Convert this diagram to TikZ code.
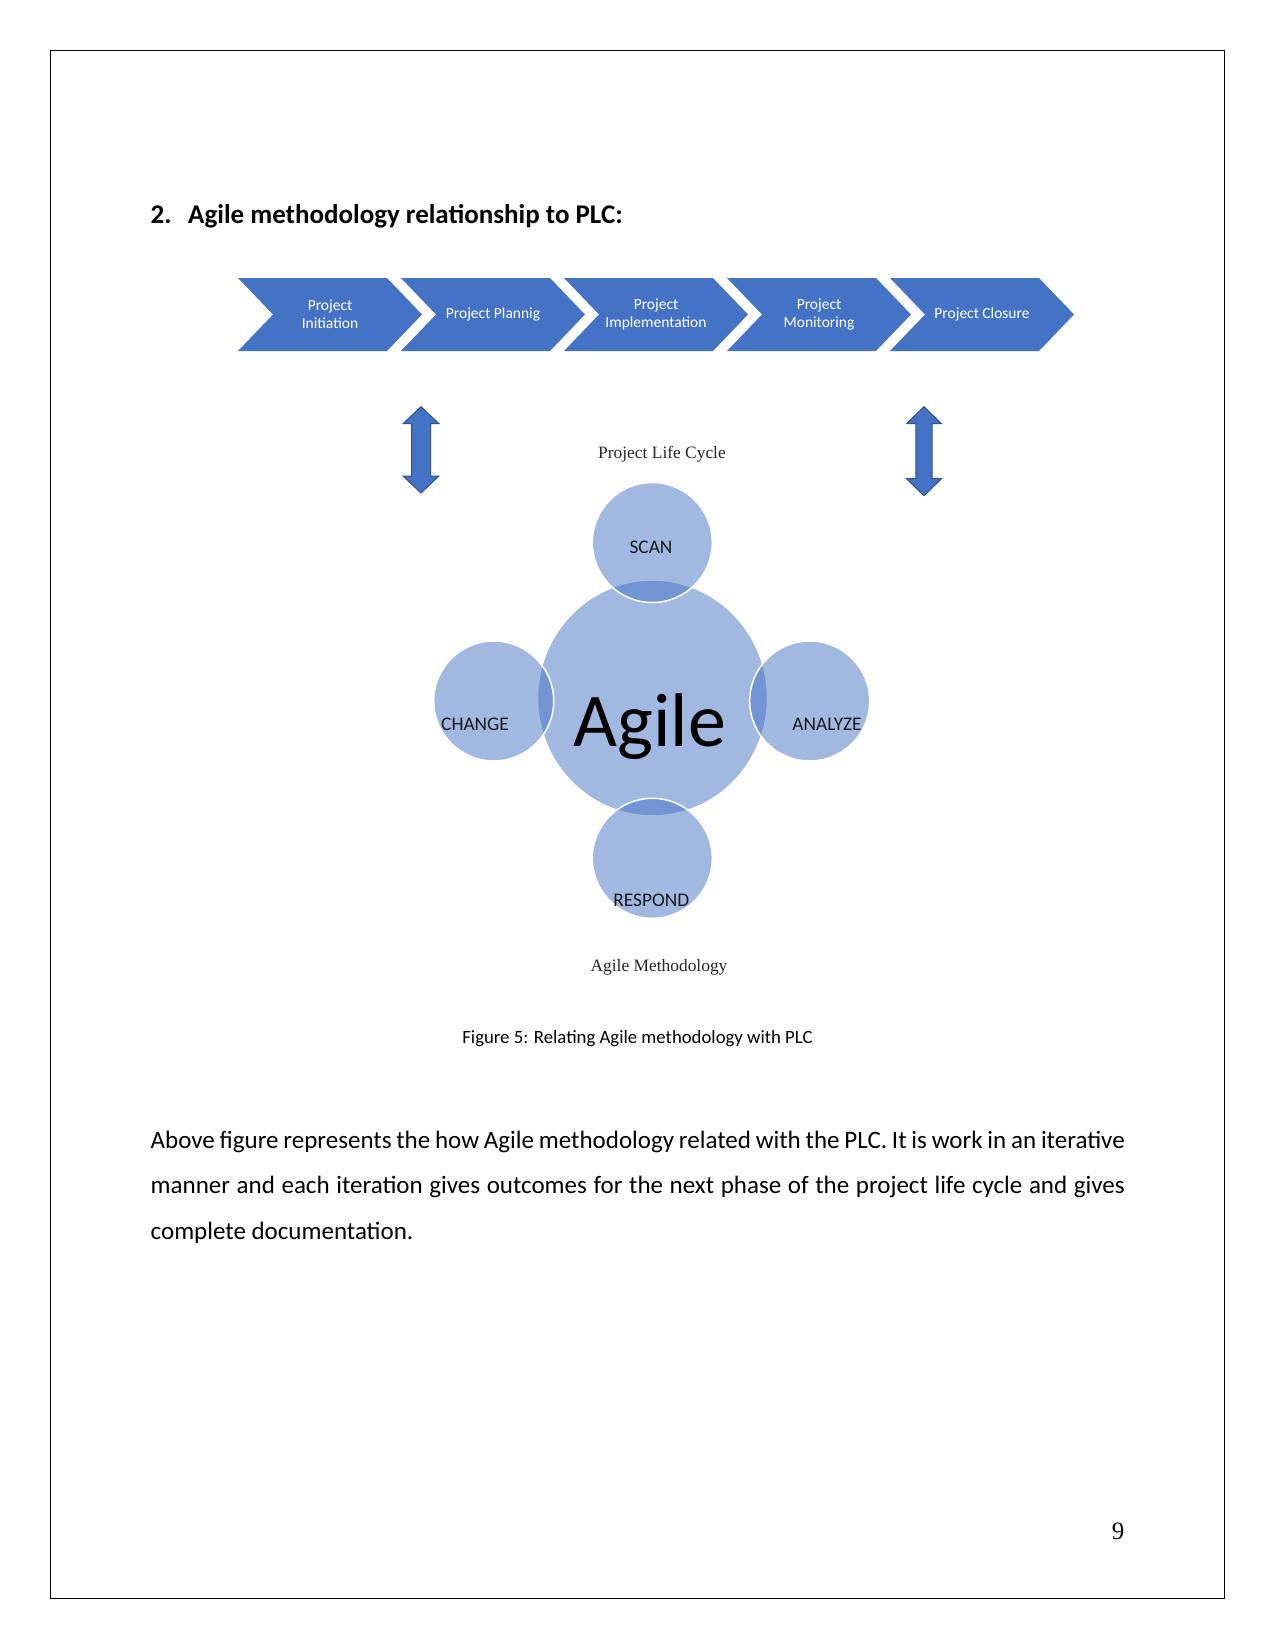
\documentclass[tikz,border=0pt]{standalone}
\usepackage{fontspec}
\setmainfont{Carlito}
\newfontfamily\tnrfont{Liberation Serif}
\usetikzlibrary{shapes.geometric}
\definecolor{chev}{HTML}{4472C4}
\definecolor{chevdark}{HTML}{2F528F}
\definecolor{lbl}{HTML}{1A1A1A}
\newcommand\chevronat[1]{\fill[chev] (#1,278) -- ++(149,0) -- ++(35,36.5) -- ++(-35,36.5) -- ++(-149,0) -- ++(35,-36.5) -- cycle;}
\newcommand\dblarrowat[5]{% cx, top, bottom, shaft half, head half
  \filldraw[fill=chev,draw=chevdark,line width=1]
    ({#1-#4},{#2+17}) -- ({#1-#5},{#2+17}) -- (#1,#2) -- ({#1+#5},{#2+17}) -- ({#1+#4},{#2+17})
    -- ({#1+#4},{#3-17}) -- ({#1+#5},{#3-17}) -- (#1,#3) -- ({#1-#5},{#3-17}) -- ({#1-#4},{#3-17}) -- cycle;}
\begin{document}
\begin{tikzpicture}[x=1pt,y=-1pt,
  chevtext/.style={text=white,align=center,inner sep=0pt,font=\fontsize{15.5}{18}\selectfont},
  venn/.style={fill=chev,fill opacity=0.5,draw=white,line width=1.5,inner sep=0pt,outer sep=0pt},
  sat/.style={venn,circle,minimum size=120},
  vlabel/.style={text=lbl,inner sep=0pt,font=\fontsize{19.3}{22}\selectfont},
  serifl/.style={text=black!85,inner sep=0pt,anchor=base,font=\tnrfont\fontsize{17.4}{20}\selectfont},
  bodyl/.style={inner sep=0pt,anchor=base west,font=\fontsize{25}{30}\selectfont}]
\useasboundingbox (0,0) rectangle (1275,1651);
\fill[white] (0,0) rectangle (1275,1651);
\draw[line width=1.5] (50.5,50.5) rectangle (1224.3,1598.7);

% heading
\node[bodyl,font=\bfseries\fontsize{27}{32}\selectfont] (hnum) at (150.5,223) {2.};
\node[bodyl,font=\bfseries\fontsize{27}{32}\selectfont] (head) at (188,223) {Agile methodology relationship to PLC:};

% chevrons
\chevronat{238}
\chevronat{401}
\chevronat{564}
\chevronat{727}
\chevronat{890}
\node[chevtext] (p1) at (330,314) {Project\\Initiation};
\node[chevtext] (p2) at (493,314) {Project Plannig};
\node[chevtext] (p3) at (656,314) {Project\\Implementation};
\node[chevtext] (p4) at (819,314) {Project\\Monitoring};
\node[chevtext] (p5) at (982,314) {Project Closure};

% double arrows
\dblarrowat{421}{406.7}{493}{9.5}{18}
\dblarrowat{924}{406.7}{495.7}{8.2}{17.5}

\node[serifl] (plc) at (662,458.3) {Project Life Cycle};

% venn circles
\node[venn,ellipse,minimum width=230,minimum height=236] (agile) at (652.5,698) {};
\node[sat] (scan) at (652.3,542.5) {};
\node[sat] (change) at (493.7,701) {};
\node[sat] (analyze) at (809.7,701) {};
\node[sat] (respond) at (652.3,858.3) {};

\node[vlabel] (tscan) at (651,547) {SCAN};
\node[vlabel] (tchange) at (475,724) {CHANGE};
\node[vlabel] (tanalyze) at (827,724) {ANALYZE};
\node[vlabel] (trespond) at (651.3,900) {RESPOND};
\node[inner sep=0pt,anchor=base,text=black,font=\fontsize{76}{80}\selectfont] (tagile) at (650,746.7) {Agile};

\node[serifl] (am) at (659,971.7) {Agile Methodology};

\node[inner sep=0pt,anchor=base,font=\fontsize{18.75}{22}\selectfont] (cap) at (637.5,1043.3) {Figure 5: Relating Agile methodology with PLC};

% body
\node[bodyl] (b1) at (150.5,1148.3) {\makebox[974pt][s]{Above figure represents the how Agile methodology related with the PLC. It is work in an iterative}};
\node[bodyl] (b2) at (150.5,1193.3) {\makebox[974pt][s]{manner and each iteration gives outcomes for the next phase of the project life cycle and gives}};
\node[bodyl] (b3) at (150.5,1239.3) {complete documentation.};

\node[inner sep=0pt,anchor=base east,font=\tnrfont\fontsize{25}{30}\selectfont] (pg) at (1124.5,1539.3) {9};
\end{tikzpicture}
\end{document}
